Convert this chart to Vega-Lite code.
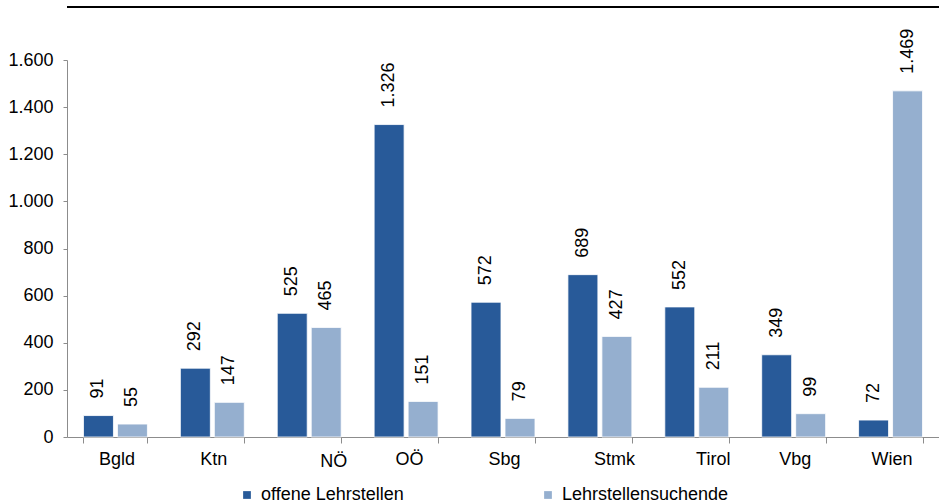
{
  "$schema": "https://vega.github.io/schema/vega-lite/v6.json",
  "autosize": {"type": "none"},
  "width": 872,
  "height": 377,
  "padding": {"left": 67, "top": 60, "right": 0, "bottom": 66},
  "config": {
    "font": "Liberation Sans",
    "view": {"stroke": null},
    "locale": {"number": {"decimal": ",", "thousands": ".", "grouping": [3], "currency": ["", " €"]}},
    "axis": {"labelFont": "Liberation Sans", "labelColor": "#000000", "labelFontSize": 18, "domainColor": "#8c8c8c", "tickColor": "#8c8c8c", "grid": false}
  },
  "data": {
    "values": [
      {"land": "Bgld", "serie": "offene Lehrstellen", "wert": 91},
      {"land": "Bgld", "serie": "Lehrstellensuchende", "wert": 55},
      {"land": "Ktn", "serie": "offene Lehrstellen", "wert": 292},
      {"land": "Ktn", "serie": "Lehrstellensuchende", "wert": 147},
      {"land": "NÖ", "serie": "offene Lehrstellen", "wert": 525},
      {"land": "NÖ", "serie": "Lehrstellensuchende", "wert": 465},
      {"land": "OÖ", "serie": "offene Lehrstellen", "wert": 1326},
      {"land": "OÖ", "serie": "Lehrstellensuchende", "wert": 151},
      {"land": "Sbg", "serie": "offene Lehrstellen", "wert": 572},
      {"land": "Sbg", "serie": "Lehrstellensuchende", "wert": 79},
      {"land": "Stmk", "serie": "offene Lehrstellen", "wert": 689},
      {"land": "Stmk", "serie": "Lehrstellensuchende", "wert": 427},
      {"land": "Tirol", "serie": "offene Lehrstellen", "wert": 552},
      {"land": "Tirol", "serie": "Lehrstellensuchende", "wert": 211},
      {"land": "Vbg", "serie": "offene Lehrstellen", "wert": 349},
      {"land": "Vbg", "serie": "Lehrstellensuchende", "wert": 99},
      {"land": "Wien", "serie": "offene Lehrstellen", "wert": 72},
      {"land": "Wien", "serie": "Lehrstellensuchende", "wert": 1469}
    ]
  },
  "encoding": {
    "x": {
      "field": "land", "type": "nominal", "sort": null, "title": null,
      "scale": {"paddingInner": 0.34, "paddingOuter": 0.17},
      "axis": {
        "labelAngle": 0, "tickBand": "extent", "tickSize": 6,
        "labelOffset": {"condition": [
          {"test": "datum.value == 'NÖ'", "value": 24},
          {"test": "datum.value == 'Stmk'", "value": 14},
          {"test": "datum.value == 'Tirol'", "value": 16},
          {"test": "datum.value == 'OÖ'", "value": 3}
        ], "value": 1},
        "labelPadding": {"condition": {"test": "datum.value == 'NÖ'", "value": 9}, "value": 7}
      }
    },
    "xOffset": {
      "field": "serie", "type": "nominal",
      "sort": ["offene Lehrstellen", "Lehrstellensuchende"],
      "scale": {"paddingInner": 0.118, "paddingOuter": 0}
    },
    "y": {
      "field": "wert", "type": "quantitative", "title": null,
      "scale": {"domain": [0, 1600], "nice": false, "zero": true},
      "axis": {"values": [0, 200, 400, 600, 800, 1000, 1200, 1400, 1600], "format": ",d", "tickSize": 4, "labelPadding": 10}
    }
  },
  "layer": [
    {
      "mark": {"type": "bar", "stroke": "#ffffff", "strokeWidth": 0.8},
      "encoding": {
        "color": {
          "field": "serie", "type": "nominal",
          "sort": ["offene Lehrstellen", "Lehrstellensuchende"],
          "scale": {"domain": ["offene Lehrstellen", "Lehrstellensuchende"], "range": ["#285A99", "#95AFCF"]},
          "legend": {
            "title": null, "orient": "none", "direction": "horizontal", "columns": 2,
            "legendX": 171, "legendY": 426, "columnPadding": 135,
            "symbolType": "square", "symbolSize": 60, "symbolStrokeWidth": 0,
            "labelFontSize": 18, "labelFont": "Liberation Sans", "labelColor": "#000000",
            "labelOffset": 5, "labelLimit": 300, "padding": 0
          }
        }
      }
    },
    {
      "mark": {"type": "text", "angle": -90, "align": "left", "baseline": "middle", "dx": 17, "fontSize": 18, "font": "Liberation Sans", "color": "#000000"},
      "encoding": {
        "text": {"field": "wert", "type": "quantitative", "format": ",d"}
      }
    },
    {
      "mark": {"type": "rule", "color": "#000000", "strokeWidth": 2},
      "encoding": {"y": {"datum": 1825}, "x": null, "xOffset": null}
    }
  ]
}
